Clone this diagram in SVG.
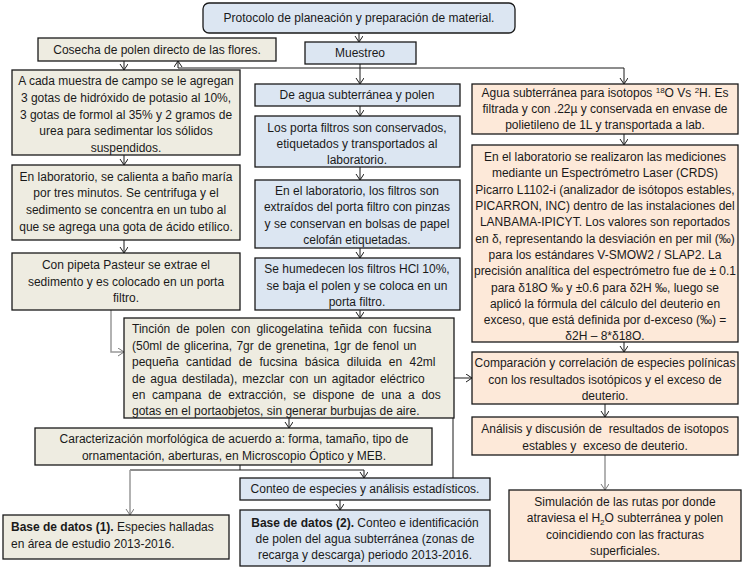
<svg xmlns="http://www.w3.org/2000/svg" width="747" height="569" viewBox="0 0 747 569">
<style>
.b{fill:#dce6f2;stroke:#1a1a1a;stroke-width:1.3}
.g{fill:#eeece1;stroke:#1a1a1a;stroke-width:1.3}
.p{fill:#fde9d9;stroke:#1a1a1a;stroke-width:1.3}
text{font-family:"Liberation Sans",Arial,sans-serif;font-size:12px;fill:#1a1a1a;text-anchor:middle}
.l{text-anchor:start}
.bd{font-weight:bold}
.c{fill:none;stroke:#1a1a1a;stroke-width:1}
.cg{fill:none;stroke:#999;stroke-width:1.5}
</style>
<defs>
<marker id="a" markerUnits="userSpaceOnUse" markerWidth="10" markerHeight="10" refX="6" refY="4" orient="auto"><path d="M0,0 L6,4 L0,8" fill="none" stroke="#1a1a1a" stroke-width="1"/></marker>
<marker id="ag" markerUnits="userSpaceOnUse" markerWidth="10" markerHeight="10" refX="6" refY="4" orient="auto"><path d="M0,0 L6,4 L0,8" fill="none" stroke="#777" stroke-width="1"/></marker>
</defs>
<g id="connectors">
<path class="c" d="M359,33 V42" marker-end="url(#a)"/>
<path class="c" d="M360,64 V84" marker-end="url(#a)"/>
<path class="c" d="M178,68 H624 V84" marker-end="url(#a)"/>
<path class="c" d="M178,68 V61" marker-end="url(#a)"/>
<path class="c" d="M124,61 V70" marker-end="url(#a)"/>
<path class="c" d="M124,155 V165" marker-end="url(#a)"/>
<path class="c" d="M124,240 V253" marker-end="url(#a)"/>
<path class="cg" d="M111,310 V352 H124" marker-end="url(#ag)"/>
<path class="c" d="M360,106 V116" marker-end="url(#a)"/>
<path class="c" d="M360,167 V180" marker-end="url(#a)"/>
<path class="c" d="M360,248 V258" marker-end="url(#a)"/>
<path class="c" d="M360,310 V318" marker-end="url(#a)"/>
<path class="c" d="M289,418 V428" marker-end="url(#a)"/>
<path class="c" d="M240,465 V470"/>
<path class="c" d="M130,470 H364 V478" marker-end="url(#a)"/>
<path class="cg" d="M130,470 V515" marker-end="url(#ag)"/>
<path class="c" d="M340,500 V510" marker-end="url(#a)"/>
<path class="c" d="M453,478 V378 H472" marker-end="url(#a)"/>
<path class="c" d="M624,134 V145" marker-end="url(#a)"/>
<path class="c" d="M624,342 V352" marker-end="url(#a)"/>
<path class="c" d="M605,404 V417" marker-end="url(#a)"/>
<path class="cg" d="M605,455 V490" marker-end="url(#ag)"/>
</g>
<g id="n-title"><rect class="b" x="203" y="3" width="312" height="30" rx="6"/><text x="359" y="22">Protocolo de planeación y preparación de material.</text></g>
<g id="n-muestreo"><rect class="b" x="305" y="42" width="111" height="22"/><text x="360" y="57">Muestreo</text></g>
<g id="n-cosecha"><rect class="g" x="38" y="38" width="238" height="23"/><text x="157" y="54">Cosecha de polen directo de las flores.</text></g>
<g id="n-acada"><rect class="g" x="12" y="70" width="228" height="85"/>
<text x="126" y="85">A cada muestra de campo se le agregan</text>
<text x="126" y="102">3 gotas de hidróxido de potasio al 10%,</text>
<text x="126" y="119">3 gotas de formol al 35% y 2 gramos de</text>
<text x="126" y="135">urea para sedimentar los sólidos</text>
<text x="126" y="152">suspendidos.</text></g>
<g id="n-lab1"><rect class="g" x="12" y="165" width="228" height="75"/>
<text x="126" y="181">En laboratorio, se calienta a baño maría</text>
<text x="126" y="197">por tres minutos. Se centrifuga y el</text>
<text x="126" y="214">sedimento se concentra en un tubo al</text>
<text x="126" y="231">que se agrega una gota de ácido etílico.</text></g>
<g id="n-pipeta"><rect class="g" x="12" y="253" width="228" height="57"/>
<text x="126" y="269">Con pipeta Pasteur se extrae el</text>
<text x="126" y="286">sedimento y es colocado en un porta</text>
<text x="126" y="302">filtro.</text></g>
<g id="n-deagua"><rect class="b" x="255" y="84" width="205" height="22"/><text x="357" y="99">De agua subterránea y polen</text></g>
<g id="n-porta"><rect class="b" x="255" y="116" width="205" height="51"/>
<text x="357" y="132">Los porta filtros son conservados,</text>
<text x="357" y="148">etiquetados y transportados al</text>
<text x="357" y="164">laboratorio.</text></g>
<g id="n-lab2"><rect class="b" x="255" y="180" width="205" height="68"/>
<text x="357" y="195">En el laboratorio, los filtros son</text>
<text x="357" y="211">extraídos del porta filtro con pinzas</text>
<text x="357" y="228">y se conservan en bolsas de papel</text>
<text x="357" y="244">celofán etiquetadas.</text></g>
<g id="n-humedecen"><rect class="b" x="255" y="258" width="205" height="52"/>
<text x="357" y="273">Se humedecen los filtros HCl 10%,</text>
<text x="357" y="290">se baja el polen y se coloca en un</text>
<text x="357" y="306">porta filtro.</text></g>
<g id="n-tincion"><rect class="g" x="124" y="318" width="330" height="100"/>
<text class="l" x="132" y="333" word-spacing="2.7">Tinción de polen con glicogelatina teñida con fucsina</text>
<text class="l" x="132" y="350" word-spacing="1">(50ml de glicerina, 7gr de grenetina, 1gr de fenol un</text>
<text class="l" x="132" y="366" word-spacing="4">pequeña cantidad de fucsina básica diluida en 42ml</text>
<text class="l" x="132" y="383" word-spacing="1.6">de agua destilada), mezclar con un agitador eléctrico</text>
<text class="l" x="132" y="399" word-spacing="3.4">en campana de extracción, se dispone de una a dos</text>
<text class="l" x="132" y="415">gotas en el portaobjetos, sin generar burbujas de aire.</text></g>
<g id="n-caract"><rect class="g" x="35" y="428" width="397" height="37"/>
<text x="234" y="443">Caracterización morfológica de acuerdo a: forma, tamaño, tipo de</text>
<text x="234" y="460">ornamentación, aberturas, en Microscopio Óptico y MEB.</text></g>
<g id="n-conteo"><rect class="b" x="240" y="478" width="250" height="22"/><text x="365" y="493">Conteo de especies y análisis estadísticos.</text></g>
<g id="n-base1"><rect class="g" x="3" y="515" width="226" height="44"/>
<text class="l" x="11" y="531"><tspan class="bd">Base de datos (1).</tspan> Especies halladas</text>
<text class="l" x="11" y="548">en área de estudio 2013-2016.</text></g>
<g id="n-base2"><rect class="b" x="240" y="510" width="250" height="56"/>
<text x="365" y="527"><tspan class="bd">Base de datos (2).</tspan> Conteo e identificación</text>
<text x="365" y="543">de polen del agua subterránea (zonas de</text>
<text x="365" y="559">recarga y descarga) periodo 2013-2016.</text></g>
<g id="n-aguaiso"><rect class="p" x="472" y="84" width="266" height="50"/>
<text x="605" y="97">Agua subterránea para isotopos <tspan font-size="8" dy="-4">18</tspan><tspan dy="4">O Vs </tspan><tspan font-size="8" dy="-4">2</tspan><tspan dy="4">H. Es</tspan></text>
<text x="605" y="113">filtrada y con .22µ y conservada en envase de</text>
<text x="605" y="129">polietileno de 1L y transportada a lab.</text></g>
<g id="n-lab3"><rect class="p" x="472" y="145" width="266" height="197"/>
<text x="605" y="161">En el laboratorio se realizaron las mediciones</text>
<text x="605" y="177">mediante un Espectrómetro Laser (CRDS)</text>
<text x="605" y="194">Picarro L1102-i (analizador de isótopos estables,</text>
<text x="605" y="210">PICARRON, INC) dentro de las instalaciones del</text>
<text x="605" y="226">LANBAMA-IPICYT. Los valores son reportados</text>
<text x="605" y="243">en δ, representando la desviación en per mil (‰)</text>
<text x="605" y="259">para los estándares V-SMOW2 / SLAP2. La</text>
<text x="605" y="275">precisión analítica del espectrómetro fue de ± 0.1</text>
<text x="605" y="292">para δ18O ‰ y ±0.6 para δ2H ‰, luego se</text>
<text x="605" y="308">aplicó la fórmula del cálculo del deuterio en</text>
<text x="605" y="324">exceso, que está definida por d-exceso (‰) =</text>
<text x="605" y="340">δ2H – 8*δ18O.</text></g>
<g id="n-compar"><rect class="p" x="472" y="352" width="266" height="52"/>
<text x="605" y="367">Comparación y correlación de especies polínicas</text>
<text x="605" y="384">con los resultados isotópicos y el exceso de</text>
<text x="605" y="400">deuterio.</text></g>
<g id="n-analisis"><rect class="p" x="472" y="417" width="266" height="38"/>
<text x="605" y="433" xml:space="preserve">Análisis y discusión de  resultados de isotopos</text>
<text x="605" y="450" xml:space="preserve">estables y  exceso de deuterio.</text></g>
<g id="n-simul"><rect class="p" x="509" y="490" width="232" height="71"/>
<text x="625" y="506">Simulación de las rutas por donde</text>
<text x="625" y="522">atraviesa el H<tspan font-size="8" dy="3">2</tspan><tspan dy="-3">O subterránea y polen</tspan></text>
<text x="625" y="539">coincidiendo con las fracturas</text>
<text x="625" y="555">superficiales.</text></g>
</svg>
